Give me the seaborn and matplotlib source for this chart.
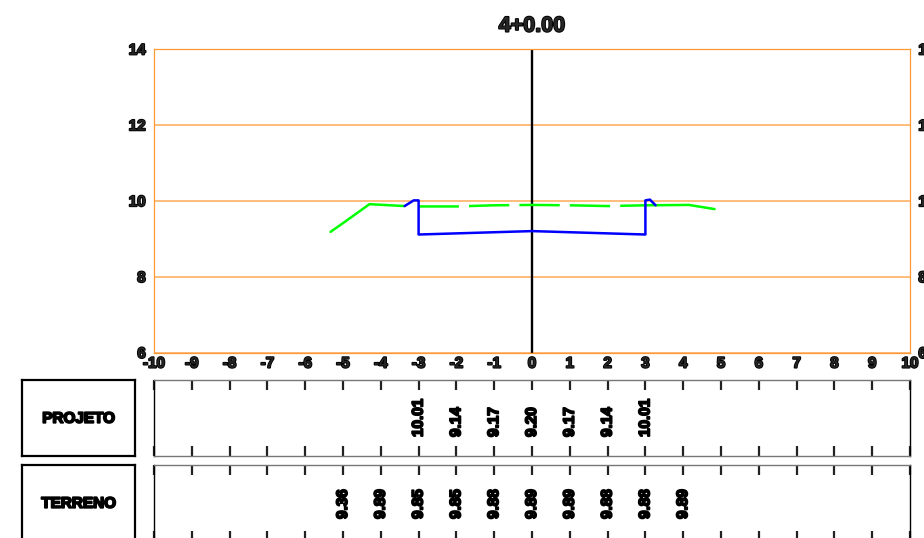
import matplotlib
matplotlib.use("Agg")
import matplotlib.pyplot as plt
import matplotlib.patheffects as pe
import numpy as np
import pandas as pd
import seaborn as sns

# station title and panel names
titulo = "4+0.00"
painel_nomes = ["PROJETO", "TERRENO"]

# terrain line, left part / dashed middle / right part
terreno_esq_x = [-5.33, -5.0, -4.3, -3.37]
terreno_esq_y = [9.18, 9.41, 9.91, 9.86]
terreno_meio_x = [-3.0, -2.0, -1.0, 0.0, 1.0, 2.0, 3.0]
terreno_meio_y = [9.85, 9.85, 9.88, 9.89, 9.88, 9.86, 9.88]
terreno_dir_x = [3.0, 4.15, 4.83]
terreno_dir_y = [9.88, 9.89, 9.78]

# project section
projeto_x = [-3.37, -3.13, -3.0, -3.0, 0.0, 3.0, 3.0, 3.12, 3.27]
projeto_y = [9.86, 10.01, 10.01, 9.11, 9.20, 9.11, 10.01, 10.03, 9.88]

# values written in the panels
projeto_pos = [-3, -2, -1, 0, 1, 2, 3]
projeto_txt = ["10.01", "9.14", "9.17", "9.20", "9.17", "9.14", "10.01"]
terreno_pos = [-5, -4, -3, -2, -1, 0, 1, 2, 3, 4]
terreno_txt = ["9.36", "9.89", "9.85", "9.85", "9.88", "9.89", "9.89", "9.88", "9.88", "9.89"]

sns.set_theme(style="white")
plt.rcParams["font.family"] = ["Liberation Sans", "DejaVu Sans"]
plt.rcParams["lines.scale_dashes"] = False
plt.rcParams["axes.unicode_minus"] = False

W, H = 924, 538
LARANJA = "#FFB066"
LARANJA_V = "#FF9933"
GROSSO = [pe.withStroke(linewidth=1.3, foreground="black")]


def caixa(x0, y0, x1, y1):
    # axes from pixel coordinates, y measured from the top
    return fig.add_axes([x0 / W, 1 - y1 / H, (x1 - x0) / W, (y1 - y0) / H])


fig = plt.figure(figsize=(W / 100, H / 100), dpi=100)

# main section plot
ax = caixa(154, 49, 910, 352.5)
ax.set_xlim(-10, 10)
ax.set_ylim(6, 14)
ax.set_yticks([6, 8, 10, 12, 14])
ax.grid(True, axis="y", color=LARANJA, lw=1.2)
for s in ax.spines.values():
    s.set_color(LARANJA_V)
    s.set_linewidth(0.9)
ax.axvline(0, color="black", lw=1.7, zorder=2)

df_esq = pd.DataFrame({"x": terreno_esq_x, "y": terreno_esq_y})
df_meio = pd.DataFrame({"x": terreno_meio_x, "y": terreno_meio_y})
df_dir = pd.DataFrame({"x": terreno_dir_x, "y": terreno_dir_y})
df_proj = pd.DataFrame({"x": projeto_x, "y": projeto_y})
sns.lineplot(data=df_esq, x="x", y="y", ax=ax, color="#00FF00", lw=1.8, sort=False, estimator=None, zorder=3)
sns.lineplot(data=df_dir, x="x", y="y", ax=ax, color="#00FF00", lw=1.8, sort=False, estimator=None, zorder=3)
l = sns.lineplot(data=df_meio, x="x", y="y", ax=ax, color="#00FF00", lw=1.8, sort=False, estimator=None, zorder=3)
l.lines[-1].set_linestyle((0, (29, 7.3)))
sns.lineplot(data=df_proj, x="x", y="y", ax=ax, color="#0000FF", lw=1.8, sort=False, estimator=None, zorder=4)
ax.set_xlabel("")
ax.set_ylabel("")

ax.set_xticks(np.arange(-10, 11))
ax.set_xticks([-5, 5], minor=True)
ax.xaxis.grid(False, which="major")
ax.xaxis.grid(True, which="minor", color=LARANJA_V, lw=0.7)
ax.tick_params(axis="x", which="both", length=0, pad=3, labelsize=11)
ax.tick_params(axis="y", which="both", length=0, pad=6, labelsize=11, labelright=True)
for t in ax.get_xticklabels() + ax.get_yticklabels():
    t.set_fontweight("bold")
    t.set_path_effects(GROSSO)
for t in ax.yaxis.get_major_ticks():
    t.label2.set_fontweight("bold")
    t.label2.set_path_effects(GROSSO)
    t.label2.set_fontsize(11)

ax.set_title(titulo, fontsize=15.5, fontweight="bold", pad=12.5, path_effects=GROSSO)

# lower panels
paineis = [(380, 456, projeto_pos, projeto_txt, 0.25), (465, 541, terreno_pos, terreno_txt, 0.29)]
for nome, (y0, y1, pos, txt, ybase) in zip(painel_nomes, paineis):
    rot = caixa(22, y0, 135, y1)
    rot.set_xticks([])
    rot.set_yticks([])
    for s in rot.spines.values():
        s.set_color("black")
        s.set_linewidth(1.6)
    rot.text(0.5, 0.49, nome, transform=rot.transAxes, ha="center", va="center",
             fontsize=11, fontweight="bold", color="black", path_effects=GROSSO)

    p = caixa(154, y0, 910, y1)
    p.set_xlim(-10, 10)
    p.set_ylim(0, 1)
    p.set_yticks([])
    p.set_xticks(np.arange(-10, 11))
    p.tick_params(axis="x", which="major", direction="in", top=True, bottom=True,
                  labelbottom=False, length=6.5, width=0.7, color="#222222")
    for t in p.xaxis.get_major_ticks():
        if t.get_loc() % 5 == 0:
            t.tick1line.set_markeredgewidth(1.6)
            t.tick2line.set_markeredgewidth(1.6)
            t.tick1line.set_markersize(7.5)
            t.tick2line.set_markersize(7.5)
            t.tick1line.set_color("black")
            t.tick2line.set_color("black")
    p.spines["top"].set_color("#777777")
    p.spines["bottom"].set_color("#777777")
    p.spines["left"].set_color("black")
    p.spines["right"].set_color("black")
    for s in p.spines.values():
        s.set_linewidth(1.0)
    for xp, v in zip(pos, txt):
        p.text(xp, ybase, v, rotation=90, ha="center", va="bottom",
               fontsize=11, fontweight="bold", color="black", path_effects=GROSSO)

fig.savefig("out.png", dpi=100)
